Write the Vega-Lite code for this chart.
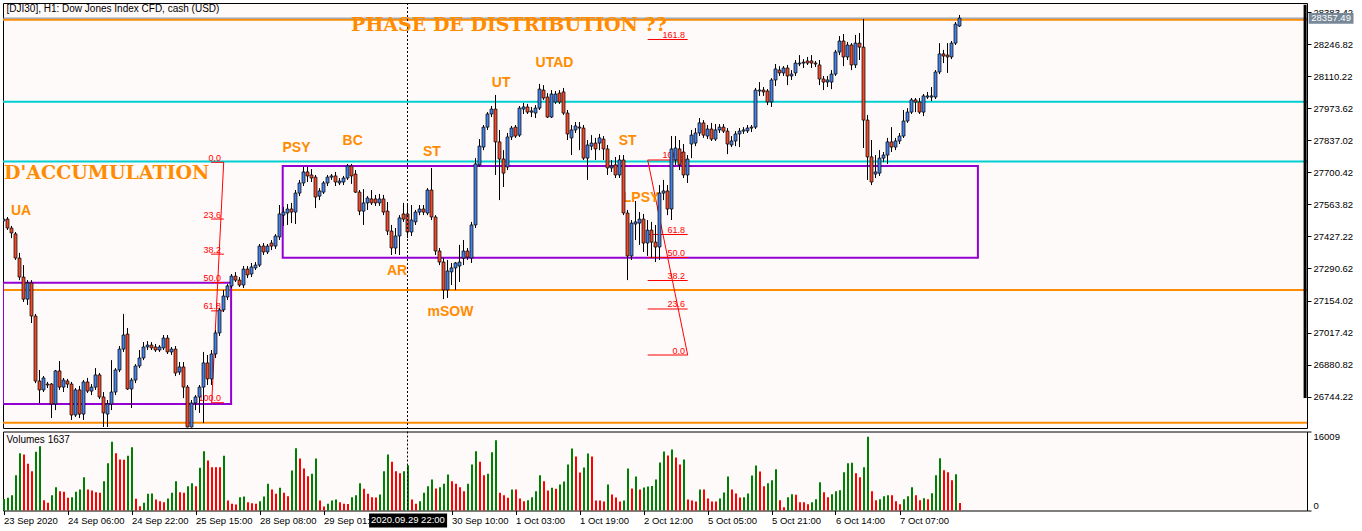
{
"$schema":"https://vega.github.io/schema/vega-lite/v6.json",
"background":"#ffffff",
"padding":{"left":1,"top":2,"right":0,"bottom":0},
"spacing":1.5,
"config":{"view":{"stroke":"#000000","strokeWidth":1,"fill":"#fffafa"},"scale":{"continuousPadding":0},"axis":{"labelFont":"Liberation Sans","labelFontSize":9.5,"labelColor":"#000000","tickColor":"#000000","domain":false,"grid":false}},
"datasets":{
"bars":[
{"i":0,"o":27493,"h":27510,"l":27484,"c":27501,"v":2500},
{"i":1,"o":27501,"h":27510,"l":27455,"c":27463,"v":2750},
{"i":2,"o":27463,"h":27472,"l":27420,"c":27442,"v":3330},
{"i":3,"o":27438,"h":27446,"l":27327,"c":27335,"v":7670},
{"i":4,"o":27335,"h":27357,"l":27241,"c":27254,"v":12450},
{"i":5,"o":27254,"h":27305,"l":27148,"c":27160,"v":12160},
{"i":6,"o":27160,"h":27241,"l":27135,"c":27229,"v":10140},
{"i":7,"o":27229,"h":27241,"l":27058,"c":27088,"v":8540},
{"i":8,"o":27088,"h":27097,"l":26802,"c":26811,"v":12740},
{"i":9,"o":26811,"h":26858,"l":26717,"c":26773,"v":13970},
{"i":10,"o":26773,"h":26832,"l":26764,"c":26824,"v":2240},
{"i":11,"o":26798,"h":26807,"l":26781,"c":26794,"v":1670},
{"i":12,"o":26798,"h":26802,"l":26653,"c":26713,"v":3330},
{"i":13,"o":26713,"h":26858,"l":26687,"c":26854,"v":5070},
{"i":14,"o":26854,"h":26896,"l":26773,"c":26785,"v":4200},
{"i":15,"o":26785,"h":26824,"l":26764,"c":26815,"v":4050},
{"i":16,"o":26811,"h":26820,"l":26781,"c":26798,"v":2750},
{"i":17,"o":26798,"h":26807,"l":26645,"c":26666,"v":2900},
{"i":18,"o":26666,"h":26781,"l":26658,"c":26773,"v":4050},
{"i":19,"o":26773,"h":26790,"l":26653,"c":26670,"v":4560},
{"i":20,"o":26670,"h":26815,"l":26645,"c":26807,"v":7240},
{"i":21,"o":26807,"h":26824,"l":26760,"c":26768,"v":4560},
{"i":22,"o":26768,"h":26798,"l":26751,"c":26785,"v":4340},
{"i":23,"o":26785,"h":26866,"l":26773,"c":26837,"v":3980},
{"i":24,"o":26837,"h":26845,"l":26734,"c":26743,"v":3840},
{"i":25,"o":26743,"h":26764,"l":26615,"c":26675,"v":6370},
{"i":26,"o":26670,"h":26730,"l":26615,"c":26713,"v":10280},
{"i":27,"o":26713,"h":26900,"l":26687,"c":26764,"v":14910},
{"i":28,"o":26764,"h":26866,"l":26751,"c":26858,"v":12450},
{"i":29,"o":26858,"h":26960,"l":26849,"c":26947,"v":11080},
{"i":30,"o":26947,"h":27097,"l":26935,"c":27007,"v":11000},
{"i":31,"o":27011,"h":27037,"l":26773,"c":26777,"v":11870},
{"i":32,"o":26777,"h":26824,"l":26696,"c":26815,"v":13760},
{"i":33,"o":26815,"h":26883,"l":26802,"c":26875,"v":2530},
{"i":34,"o":26875,"h":26943,"l":26866,"c":26909,"v":940},
{"i":35,"o":26909,"h":26977,"l":26900,"c":26956,"v":1670},
{"i":36,"o":26956,"h":26981,"l":26943,"c":26964,"v":3620},
{"i":37,"o":26964,"h":26977,"l":26943,"c":26952,"v":3700},
{"i":38,"o":26956,"h":26969,"l":26935,"c":26943,"v":2390},
{"i":39,"o":26943,"h":26964,"l":26935,"c":26956,"v":2030},
{"i":40,"o":26952,"h":27007,"l":26943,"c":26994,"v":1810},
{"i":41,"o":26994,"h":27007,"l":26926,"c":26935,"v":2610},
{"i":42,"o":26935,"h":26956,"l":26922,"c":26947,"v":3840},
{"i":43,"o":26947,"h":26960,"l":26832,"c":26845,"v":6370},
{"i":44,"o":26849,"h":26892,"l":26837,"c":26871,"v":3980},
{"i":45,"o":26871,"h":26892,"l":26738,"c":26785,"v":3840},
{"i":46,"o":26785,"h":26794,"l":26613,"c":26615,"v":5290},
{"i":47,"o":26615,"h":26730,"l":26613,"c":26717,"v":5940},
{"i":48,"o":26717,"h":26751,"l":26687,"c":26743,"v":5290},
{"i":49,"o":26743,"h":26794,"l":26675,"c":26785,"v":9270},
{"i":50,"o":26785,"h":26935,"l":26632,"c":26888,"v":12890},
{"i":51,"o":26888,"h":26922,"l":26794,"c":26820,"v":10860},
{"i":52,"o":26820,"h":26943,"l":26794,"c":26926,"v":9410},
{"i":53,"o":26926,"h":27028,"l":26909,"c":27016,"v":9410},
{"i":54,"o":27016,"h":27122,"l":27003,"c":27114,"v":9410},
{"i":55,"o":27114,"h":27199,"l":27105,"c":27173,"v":11870},
{"i":56,"o":27169,"h":27224,"l":27156,"c":27216,"v":2170},
{"i":57,"o":27216,"h":27267,"l":27207,"c":27258,"v":1450},
{"i":58,"o":27258,"h":27275,"l":27233,"c":27241,"v":1300},
{"i":59,"o":27241,"h":27254,"l":27212,"c":27220,"v":2900},
{"i":60,"o":27220,"h":27301,"l":27207,"c":27288,"v":3040},
{"i":61,"o":27288,"h":27301,"l":27250,"c":27263,"v":1810},
{"i":62,"o":27267,"h":27314,"l":27254,"c":27297,"v":1590},
{"i":63,"o":27293,"h":27318,"l":27284,"c":27305,"v":1450},
{"i":64,"o":27305,"h":27395,"l":27297,"c":27386,"v":2030},
{"i":65,"o":27386,"h":27399,"l":27348,"c":27361,"v":3040},
{"i":66,"o":27361,"h":27395,"l":27352,"c":27386,"v":5790},
{"i":67,"o":27399,"h":27412,"l":27369,"c":27386,"v":4560},
{"i":68,"o":27386,"h":27437,"l":27374,"c":27429,"v":3620},
{"i":69,"o":27425,"h":27561,"l":27412,"c":27523,"v":4920},
{"i":70,"o":27518,"h":27553,"l":27472,"c":27531,"v":3840},
{"i":71,"o":27527,"h":27565,"l":27476,"c":27544,"v":3110},
{"i":72,"o":27544,"h":27570,"l":27484,"c":27531,"v":8690},
{"i":73,"o":27531,"h":27625,"l":27480,"c":27612,"v":13540},
{"i":74,"o":27612,"h":27668,"l":27599,"c":27655,"v":11290},
{"i":75,"o":27655,"h":27723,"l":27642,"c":27702,"v":9120},
{"i":76,"o":27702,"h":27723,"l":27659,"c":27685,"v":7460},
{"i":77,"o":27689,"h":27714,"l":27659,"c":27676,"v":7960},
{"i":78,"o":27680,"h":27689,"l":27548,"c":27595,"v":11290},
{"i":79,"o":27599,"h":27633,"l":27582,"c":27621,"v":2170},
{"i":80,"o":27616,"h":27663,"l":27608,"c":27655,"v":870},
{"i":81,"o":27655,"h":27689,"l":27642,"c":27680,"v":1450},
{"i":82,"o":27680,"h":27693,"l":27668,"c":27685,"v":2170},
{"i":83,"o":27685,"h":27702,"l":27642,"c":27659,"v":2390},
{"i":84,"o":27655,"h":27676,"l":27646,"c":27663,"v":1810},
{"i":85,"o":27659,"h":27685,"l":27646,"c":27676,"v":1450},
{"i":86,"o":27676,"h":27736,"l":27668,"c":27727,"v":1400},
{"i":87,"o":27727,"h":27736,"l":27651,"c":27685,"v":2900},
{"i":88,"o":27693,"h":27710,"l":27612,"c":27616,"v":3330},
{"i":89,"o":27616,"h":27625,"l":27518,"c":27535,"v":5940},
{"i":90,"o":27535,"h":27629,"l":27476,"c":27570,"v":4700},
{"i":91,"o":27570,"h":27599,"l":27540,"c":27591,"v":3620},
{"i":92,"o":27587,"h":27625,"l":27561,"c":27570,"v":2900},
{"i":93,"o":27587,"h":27604,"l":27557,"c":27570,"v":2800},
{"i":94,"o":27570,"h":27608,"l":27557,"c":27587,"v":3480},
{"i":95,"o":27587,"h":27604,"l":27518,"c":27531,"v":8540},
{"i":96,"o":27535,"h":27574,"l":27433,"c":27450,"v":12160},
{"i":97,"o":27450,"h":27476,"l":27348,"c":27378,"v":10570},
{"i":98,"o":27378,"h":27463,"l":27352,"c":27429,"v":8540},
{"i":99,"o":27429,"h":27518,"l":27348,"c":27506,"v":8110},
{"i":100,"o":27523,"h":27570,"l":27489,"c":27501,"v":8540},
{"i":101,"o":27523,"h":27561,"l":27420,"c":27446,"v":9850},
{"i":102,"o":27446,"h":27561,"l":27429,"c":27497,"v":2390},
{"i":103,"o":27489,"h":27540,"l":27476,"c":27531,"v":1450},
{"i":104,"o":27531,"h":27561,"l":27518,"c":27544,"v":2030},
{"i":105,"o":27544,"h":27561,"l":27518,"c":27531,"v":3840},
{"i":106,"o":27527,"h":27633,"l":27518,"c":27625,"v":5290},
{"i":107,"o":27625,"h":27719,"l":27497,"c":27510,"v":6730},
{"i":108,"o":27510,"h":27518,"l":27348,"c":27365,"v":4800},
{"i":109,"o":27365,"h":27378,"l":27305,"c":27318,"v":5070},
{"i":110,"o":27318,"h":27335,"l":27160,"c":27199,"v":5790},
{"i":111,"o":27199,"h":27327,"l":27165,"c":27280,"v":7820},
{"i":112,"o":27276,"h":27314,"l":27220,"c":27293,"v":6370},
{"i":113,"o":27293,"h":27318,"l":27199,"c":27314,"v":5790},
{"i":114,"o":27301,"h":27391,"l":27233,"c":27318,"v":5070},
{"i":115,"o":27335,"h":27412,"l":27305,"c":27365,"v":4200},
{"i":116,"o":27365,"h":27378,"l":27327,"c":27339,"v":5790},
{"i":117,"o":27335,"h":27489,"l":27314,"c":27476,"v":9990},
{"i":118,"o":27476,"h":27761,"l":27463,"c":27736,"v":12890},
{"i":119,"o":27732,"h":27842,"l":27723,"c":27812,"v":10570},
{"i":120,"o":27808,"h":27902,"l":27795,"c":27893,"v":7670},
{"i":121,"o":27893,"h":27957,"l":27881,"c":27949,"v":7960},
{"i":122,"o":27949,"h":27983,"l":27936,"c":27970,"v":12670},
{"i":123,"o":27970,"h":28030,"l":27689,"c":27830,"v":15280},
{"i":124,"o":27830,"h":27881,"l":27582,"c":27757,"v":3840},
{"i":125,"o":27757,"h":27795,"l":27638,"c":27697,"v":3330},
{"i":126,"o":27723,"h":27868,"l":27710,"c":27851,"v":2750},
{"i":127,"o":27851,"h":27898,"l":27838,"c":27889,"v":4560},
{"i":128,"o":27893,"h":27902,"l":27847,"c":27855,"v":4560},
{"i":129,"o":27859,"h":27983,"l":27851,"c":27974,"v":2610},
{"i":130,"o":27970,"h":27996,"l":27949,"c":27979,"v":2030},
{"i":131,"o":27979,"h":27992,"l":27949,"c":27957,"v":2200},
{"i":132,"o":27957,"h":27979,"l":27936,"c":27962,"v":2900},
{"i":133,"o":27953,"h":27987,"l":27932,"c":27974,"v":4200},
{"i":134,"o":27974,"h":28077,"l":27966,"c":28055,"v":7670},
{"i":135,"o":28051,"h":28072,"l":28009,"c":28017,"v":6370},
{"i":136,"o":28021,"h":28038,"l":27932,"c":27936,"v":4340},
{"i":137,"o":27936,"h":28051,"l":27932,"c":28034,"v":4920},
{"i":138,"o":28000,"h":28047,"l":27992,"c":28034,"v":4700},
{"i":139,"o":28038,"h":28051,"l":27992,"c":28000,"v":5650},
{"i":140,"o":28043,"h":28060,"l":27945,"c":27953,"v":6300},
{"i":141,"o":27953,"h":27966,"l":27838,"c":27864,"v":9990},
{"i":142,"o":27847,"h":27902,"l":27774,"c":27881,"v":13470},
{"i":143,"o":27881,"h":27915,"l":27868,"c":27898,"v":11730},
{"i":144,"o":27893,"h":27915,"l":27795,"c":27889,"v":8250},
{"i":145,"o":27889,"h":27902,"l":27753,"c":27761,"v":9340},
{"i":146,"o":27761,"h":27838,"l":27668,"c":27817,"v":12380},
{"i":147,"o":27812,"h":27859,"l":27795,"c":27825,"v":11730},
{"i":148,"o":27825,"h":27847,"l":27753,"c":27800,"v":2170},
{"i":149,"o":27825,"h":27864,"l":27795,"c":27847,"v":2170},
{"i":150,"o":27842,"h":27855,"l":27753,"c":27800,"v":1950},
{"i":151,"o":27800,"h":27817,"l":27689,"c":27719,"v":5650},
{"i":152,"o":27719,"h":27753,"l":27702,"c":27727,"v":3480},
{"i":153,"o":27732,"h":27766,"l":27676,"c":27689,"v":2820},
{"i":154,"o":27689,"h":27774,"l":27676,"c":27753,"v":1950},
{"i":155,"o":27753,"h":27774,"l":27518,"c":27527,"v":2170},
{"i":156,"o":27527,"h":27540,"l":27241,"c":27344,"v":9120},
{"i":157,"o":27344,"h":27497,"l":27327,"c":27484,"v":4780},
{"i":158,"o":27480,"h":27578,"l":27412,"c":27489,"v":7380},
{"i":159,"o":27484,"h":27531,"l":27391,"c":27501,"v":4560},
{"i":160,"o":27501,"h":27523,"l":27361,"c":27399,"v":5000},
{"i":161,"o":27399,"h":27497,"l":27344,"c":27454,"v":5210},
{"i":162,"o":27454,"h":27489,"l":27335,"c":27403,"v":5300},
{"i":163,"o":27403,"h":27476,"l":27318,"c":27382,"v":6730},
{"i":164,"o":27382,"h":27646,"l":27327,"c":27612,"v":10430},
{"i":165,"o":27612,"h":27668,"l":27582,"c":27621,"v":12810},
{"i":166,"o":27621,"h":27646,"l":27518,"c":27544,"v":11950},
{"i":167,"o":27544,"h":27855,"l":27497,"c":27800,"v":13250},
{"i":168,"o":27753,"h":27855,"l":27732,"c":27804,"v":11510},
{"i":169,"o":27800,"h":27838,"l":27710,"c":27732,"v":9990},
{"i":170,"o":27787,"h":27821,"l":27676,"c":27689,"v":11080},
{"i":171,"o":27689,"h":27774,"l":27655,"c":27757,"v":2390},
{"i":172,"o":27821,"h":27881,"l":27761,"c":27859,"v":2170},
{"i":173,"o":27825,"h":27889,"l":27812,"c":27868,"v":1950},
{"i":174,"o":27868,"h":27932,"l":27855,"c":27911,"v":4560},
{"i":175,"o":27911,"h":27923,"l":27847,"c":27859,"v":4560},
{"i":176,"o":27855,"h":27902,"l":27842,"c":27885,"v":2610},
{"i":177,"o":27885,"h":27911,"l":27834,"c":27842,"v":1950},
{"i":178,"o":27842,"h":27906,"l":27834,"c":27881,"v":1950},
{"i":179,"o":27881,"h":27906,"l":27868,"c":27893,"v":2610},
{"i":180,"o":27893,"h":27906,"l":27868,"c":27876,"v":3910},
{"i":181,"o":27876,"h":27889,"l":27778,"c":27821,"v":7380},
{"i":182,"o":27817,"h":27855,"l":27808,"c":27834,"v":4560},
{"i":183,"o":27834,"h":27876,"l":27812,"c":27864,"v":3690},
{"i":184,"o":27864,"h":27889,"l":27808,"c":27876,"v":2820},
{"i":185,"o":27876,"h":27893,"l":27864,"c":27881,"v":2900},
{"i":186,"o":27877,"h":27902,"l":27868,"c":27889,"v":3690},
{"i":187,"o":27889,"h":27902,"l":27872,"c":27893,"v":7600},
{"i":188,"o":27893,"h":28060,"l":27885,"c":28051,"v":9770},
{"i":189,"o":28047,"h":28085,"l":28026,"c":28051,"v":8470},
{"i":190,"o":28051,"h":28064,"l":28026,"c":28043,"v":5290},
{"i":191,"o":28047,"h":28055,"l":27987,"c":28000,"v":5940},
{"i":192,"o":28000,"h":28102,"l":27979,"c":28094,"v":6590},
{"i":193,"o":28094,"h":28162,"l":28068,"c":28141,"v":8980},
{"i":194,"o":28136,"h":28153,"l":28111,"c":28124,"v":2240},
{"i":195,"o":28124,"h":28153,"l":28111,"c":28145,"v":720},
{"i":196,"o":28145,"h":28158,"l":28072,"c":28111,"v":2900},
{"i":197,"o":28111,"h":28136,"l":28094,"c":28119,"v":3550},
{"i":198,"o":28124,"h":28179,"l":28111,"c":28166,"v":3400},
{"i":199,"o":28162,"h":28200,"l":28153,"c":28166,"v":1810},
{"i":200,"o":28166,"h":28183,"l":28145,"c":28170,"v":1810},
{"i":201,"o":28175,"h":28192,"l":28158,"c":28166,"v":1380},
{"i":202,"o":28175,"h":28200,"l":28145,"c":28166,"v":1810},
{"i":203,"o":28166,"h":28175,"l":28149,"c":28162,"v":2460},
{"i":204,"o":28158,"h":28179,"l":28072,"c":28098,"v":6150},
{"i":205,"o":28098,"h":28111,"l":28051,"c":28085,"v":3980},
{"i":206,"o":28085,"h":28111,"l":28064,"c":28094,"v":2900},
{"i":207,"o":28085,"h":28136,"l":28055,"c":28119,"v":3550},
{"i":208,"o":28119,"h":28222,"l":28111,"c":28213,"v":4200},
{"i":209,"o":28213,"h":28281,"l":28200,"c":28260,"v":4420},
{"i":210,"o":28260,"h":28290,"l":28153,"c":28192,"v":8330},
{"i":211,"o":28192,"h":28256,"l":28179,"c":28243,"v":10280},
{"i":212,"o":28243,"h":28251,"l":28136,"c":28158,"v":10350},
{"i":213,"o":28158,"h":28286,"l":28145,"c":28251,"v":8110},
{"i":214,"o":28251,"h":28294,"l":28179,"c":28234,"v":7240},
{"i":215,"o":28234,"h":28354,"l":27804,"c":27923,"v":9410},
{"i":216,"o":27923,"h":27945,"l":27668,"c":27766,"v":16009},
{"i":217,"o":27766,"h":27838,"l":27646,"c":27659,"v":4200},
{"i":218,"o":27693,"h":27774,"l":27676,"c":27702,"v":2240},
{"i":219,"o":27697,"h":27795,"l":27685,"c":27761,"v":2460},
{"i":220,"o":27761,"h":27787,"l":27744,"c":27774,"v":3110},
{"i":221,"o":27774,"h":27847,"l":27736,"c":27830,"v":3330},
{"i":222,"o":27830,"h":27893,"l":27787,"c":27808,"v":3330},
{"i":223,"o":27808,"h":27847,"l":27795,"c":27834,"v":2030},
{"i":224,"o":27834,"h":27868,"l":27821,"c":27855,"v":1380},
{"i":225,"o":27855,"h":27966,"l":27847,"c":27919,"v":2460},
{"i":226,"o":27919,"h":27974,"l":27911,"c":27957,"v":3110},
{"i":227,"o":27957,"h":28017,"l":27949,"c":28009,"v":5070},
{"i":228,"o":28009,"h":28017,"l":27957,"c":28000,"v":3330},
{"i":229,"o":28000,"h":28017,"l":27949,"c":27957,"v":2240},
{"i":230,"o":27957,"h":28034,"l":27940,"c":28026,"v":2680},
{"i":231,"o":28021,"h":28043,"l":28013,"c":28026,"v":2460},
{"i":232,"o":28021,"h":28064,"l":28004,"c":28026,"v":3760},
{"i":233,"o":28021,"h":28136,"l":28013,"c":28128,"v":7670},
{"i":234,"o":28128,"h":28251,"l":28119,"c":28205,"v":11370},
{"i":235,"o":28205,"h":28222,"l":28166,"c":28196,"v":8760},
{"i":236,"o":28200,"h":28251,"l":28124,"c":28192,"v":8330},
{"i":237,"o":28192,"h":28260,"l":28183,"c":28251,"v":6590},
{"i":238,"o":28251,"h":28341,"l":28243,"c":28332,"v":7890},
{"i":239,"o":28324,"h":28371,"l":28320,"c":28357.49,"v":1637}
],
"hl":[{"p":28351,"k":"orange"},{"p":28001,"k":"cyan"},{"p":27746,"k":"cyan"},{"p":27199,"k":"orange"},{"p":26633,"k":"orange"}],
"boxes":[{"x1":-0.125,"x2":56.9,"p1":27230,"p2":26713},{"x1":69.8,"x2":243.6,"p1":27727.3,"p2":27336.5}],
"fib":[
{"x1":51.9,"x2":55.1,"lx":54.4,"p":27743.1,"t":"0.0"},
{"x1":51.9,"x2":55.1,"lx":54.4,"p":27501.3,"t":"23.6"},
{"x1":51.9,"x2":55.1,"lx":54.4,"p":27351.7,"t":"38.2"},
{"x1":51.9,"x2":55.1,"lx":54.4,"p":27230.8,"t":"50.0"},
{"x1":51.9,"x2":55.1,"lx":54.4,"p":27109.9,"t":"61.8"},
{"x1":51.9,"x2":55.1,"lx":54.4,"p":26718.5,"t":"100.0"},
{"x1":161.05,"x2":171.05,"lx":170.4,"p":26921.8,"t":"0.0"},
{"x1":161.05,"x2":171.05,"lx":170.4,"p":27117.9,"t":"23.6"},
{"x1":161.05,"x2":171.05,"lx":170.4,"p":27239.3,"t":"38.2"},
{"x1":161.05,"x2":171.05,"lx":170.4,"p":27337.4,"t":"50.0"},
{"x1":161.05,"x2":171.05,"lx":170.4,"p":27435.4,"t":"61.8"},
{"x1":161.05,"x2":171.05,"lx":170.4,"p":27752.9,"t":"100.0"},
{"x1":161.05,"x2":171.05,"lx":170.4,"p":28266.5,"t":"161.8"}
],
"fibdiag":[{"x1":55.05,"p1":27743.1,"x2":52.05,"p2":26718.5},{"x1":161.05,"p1":27752.9,"x2":171.05,"p2":26921.8}],
"wyckoff":[{"t":"UA","i":4.4,"p":27535},{"t":"PSY","i":73.25,"p":27805},{"t":"BC","i":87.3,"p":27835},{"t":"ST","i":107.1,"p":27786},{"t":"AR","i":98.4,"p":27281},{"t":"mSOW","i":111.75,"p":27105},{"t":"UT","i":124.4,"p":28082},{"t":"UTAD","i":137.75,"p":28165},{"t":"ST","i":156.05,"p":27834},{"t":"LPSY","i":159.4,"p":27592}],
"phases":[{"t":"PHASE DE DISTRIBUTION ??","i":86.9,"p":28304},{"t":"D'ACCUMULATION","i":0.125,"p":27670.6}]
},
"vconcat":[
{"width":1304,"height":425,
"resolve":{"axis":{"x":"independent","y":"independent"}},
"layer":[
{"data":{"name":"hl"},"mark":{"type":"rule","strokeWidth":2},
 "encoding":{"y":{"field":"p","type":"quantitative","scale":{"domain":[26610.7,28422],"nice":false,"zero":false,"padding":0},
   "axis":{"orient":"right","values":[28383.42,28246.82,28110.22,27973.62,27837.02,27700.42,27563.82,27427.22,27290.62,27154.02,27017.42,26880.82,26744.22],"format":".2f","tickSize":4,"labelPadding":2,"title":null,"labelOverlap":false,"labelFlush":false}},
  "color":{"field":"k","type":"nominal","scale":{"domain":["orange","cyan"],"range":["#ff8c00","#00ced1"]},"legend":null}}},
{"data":{"values":[{"p":28357.49}]},"mark":{"type":"rule","strokeWidth":1,"color":"#778899"},
 "encoding":{"y":{"field":"p","type":"quantitative","scale":{"domain":[26610.7,28422],"nice":false,"zero":false,"padding":0},"axis":null}}},
{"data":{"name":"boxes"},"mark":{"type":"rect","filled":false,"stroke":"#9400d3","strokeWidth":2,"clip":true},
 "encoding":{"x":{"field":"x1","type":"quantitative","scale":{"domain":[-0.125,325.875],"nice":false,"zero":false,"padding":0},"axis":null},"x2":{"field":"x2"},
  "y":{"field":"p1","type":"quantitative","scale":{"domain":[26610.7,28422],"nice":false,"zero":false,"padding":0},"axis":null},"y2":{"field":"p2"}}},
{"data":{"name":"fib"},"mark":{"type":"rule","strokeWidth":1,"color":"#ff0000"},
 "encoding":{"x":{"field":"x1","type":"quantitative","scale":{"domain":[-0.125,325.875],"nice":false,"zero":false,"padding":0},"axis":null},"x2":{"field":"x2"},
  "y":{"field":"p","type":"quantitative","scale":{"domain":[26610.7,28422],"nice":false,"zero":false,"padding":0},"axis":null}}},
{"data":{"name":"fibdiag"},"mark":{"type":"rule","strokeWidth":1,"color":"#ff0000"},
 "encoding":{"x":{"field":"x1","type":"quantitative","scale":{"domain":[-0.125,325.875],"nice":false,"zero":false,"padding":0},"axis":null},"x2":{"field":"x2"},
  "y":{"field":"p1","type":"quantitative","scale":{"domain":[26610.7,28422],"nice":false,"zero":false,"padding":0},"axis":null},"y2":{"field":"p2"}}},
{"data":{"name":"fib"},"mark":{"type":"text","font":"Liberation Sans","fontSize":9,"color":"#ff0000","align":"right","baseline":"alphabetic","dy":-1.5},
 "encoding":{"x":{"field":"lx","type":"quantitative","scale":{"domain":[-0.125,325.875],"nice":false,"zero":false,"padding":0},"axis":null},
  "y":{"field":"p","type":"quantitative","scale":{"domain":[26610.7,28422],"nice":false,"zero":false,"padding":0},"axis":null},"text":{"field":"t"}}},
{"data":{"name":"wyckoff"},"mark":{"type":"text","font":"Liberation Sans","fontWeight":"bold","fontSize":14,"color":"#ff8c00","align":"center","baseline":"middle"},
 "encoding":{"x":{"field":"i","type":"quantitative","scale":{"domain":[-0.125,325.875],"nice":false,"zero":false,"padding":0},"axis":null},
  "y":{"field":"p","type":"quantitative","scale":{"domain":[26610.7,28422],"nice":false,"zero":false,"padding":0},"axis":null},"text":{"field":"t"}}},
{"data":{"name":"bars"},"mark":{"type":"rule","strokeWidth":1,"color":"#000000","clip":true},
 "encoding":{"x":{"field":"i","type":"quantitative","scale":{"domain":[-0.125,325.875],"nice":false,"zero":false,"padding":0},"axis":null},
  "y":{"field":"l","type":"quantitative","scale":{"domain":[26610.7,28422],"nice":false,"zero":false,"padding":0},"axis":null},"y2":{"field":"h"}}},
{"data":{"name":"bars"},"mark":{"type":"bar","orient":"vertical","size":3,"stroke":"#000000","strokeWidth":0.7,"clip":true},
 "encoding":{"x":{"field":"i","type":"quantitative","scale":{"domain":[-0.125,325.875],"nice":false,"zero":false,"padding":0},"axis":null},
  "y":{"field":"o","type":"quantitative","scale":{"domain":[26610.7,28422],"nice":false,"zero":false,"padding":0},"axis":null},"y2":{"field":"c"},
  "color":{"condition":{"test":"datum.c > datum.o","value":"#4682e6"},"value":"#f04a2c"}}},
{"data":{"values":[{"i":101}]},"mark":{"type":"rule","strokeWidth":1,"color":"#000000","strokeDash":[2,2]},
 "encoding":{"x":{"field":"i","type":"quantitative","scale":{"domain":[-0.125,325.875],"nice":false,"zero":false,"padding":0},"axis":null}}},
{"data":{"name":"phases"},"mark":{"type":"text","font":"DejaVu Serif","fontWeight":"bold","fontSize":19,"color":"#ff8c00","align":"left","baseline":"alphabetic"},
 "encoding":{"x":{"field":"i","type":"quantitative","scale":{"domain":[-0.125,325.875],"nice":false,"zero":false,"padding":0},"axis":null},
  "y":{"field":"p","type":"quantitative","scale":{"domain":[26610.7,28422],"nice":false,"zero":false,"padding":0},"axis":null},"text":{"field":"t"}}},
{"data":{"values":[{"t":"[DJI30], H1:  Dow Jones Index CFD, cash (USD)","i":0.75,"p":28397}]},"mark":{"type":"text","font":"Liberation Sans","fontSize":10,"color":"#000000","align":"left","baseline":"middle"},
 "encoding":{"x":{"field":"i","type":"quantitative","scale":{"domain":[-0.125,325.875],"nice":false,"zero":false,"padding":0},"axis":null},
  "y":{"field":"p","type":"quantitative","scale":{"domain":[26610.7,28422],"nice":false,"zero":false,"padding":0},"axis":null},"text":{"field":"t"}}},
{"data":{"values":[{"i":325.4,"p1":28415,"p2":26738.5}]},"mark":{"type":"rule","strokeWidth":3,"color":"#000000"},
 "encoding":{"x":{"field":"i","type":"quantitative","scale":{"domain":[-0.125,325.875],"nice":false,"zero":false,"padding":0},"axis":null},
  "y":{"field":"p1","type":"quantitative","scale":{"domain":[26610.7,28422],"nice":false,"zero":false,"padding":0},"axis":null},"y2":{"field":"p2"}}},
{"data":{"values":[{"x1":326.3,"x2":337.5,"p1":28379.8,"p2":28333.8}]},"mark":{"type":"rect","color":"#778899"},
 "encoding":{"x":{"field":"x1","type":"quantitative","scale":{"domain":[-0.125,325.875],"nice":false,"zero":false,"padding":0},"axis":null},"x2":{"field":"x2"},
  "y":{"field":"p1","type":"quantitative","scale":{"domain":[26610.7,28422],"nice":false,"zero":false,"padding":0},"axis":null},"y2":{"field":"p2"}}},
{"data":{"values":[{"t":"28357.49","i":331.9,"p":28357}]},"mark":{"type":"text","font":"Liberation Sans","fontSize":9.5,"color":"#ffffff","align":"center","baseline":"middle"},
 "encoding":{"x":{"field":"i","type":"quantitative","scale":{"domain":[-0.125,325.875],"nice":false,"zero":false,"padding":0},"axis":null},
  "y":{"field":"p","type":"quantitative","scale":{"domain":[26610.7,28422],"nice":false,"zero":false,"padding":0},"axis":null},"text":{"field":"t"}}}
]},
{"width":1304,"height":79,
"resolve":{"axis":{"x":"independent","y":"independent"}},
"layer":[
{"data":{"name":"bars"},
 "transform":[{"window":[{"op":"lag","field":"v","as":"pv"}],"sort":[{"field":"i"}]}],
 "mark":{"type":"bar","orient":"vertical","size":2,"xOffset":0.5},
 "encoding":{"x":{"field":"i","type":"quantitative","scale":{"domain":[-0.125,325.875],"nice":false,"zero":false,"padding":0},
   "axis":{"orient":"bottom","values":[0,16,32,48,64,80,112,128,144,160,176,192,208,224],
    "labelExpr":"['23 Sep 2020','24 Sep 06:00','24 Sep 22:00','25 Sep 15:00','28 Sep 08:00','29 Sep 01:00','29 Sep 17:00','30 Sep 10:00','1 Oct 03:00','1 Oct 19:00','2 Oct 12:00','5 Oct 05:00','5 Oct 21:00','6 Oct 14:00','7 Oct 07:00'][round(datum.value/16)]",
    "labelAlign":"left","labelPadding":1,"tickSize":4,"title":null,"labelOverlap":false,"labelFlush":false,"labelBound":false}},
  "y":{"field":"v","type":"quantitative","scale":{"domain":[0,17159],"nice":false,"zero":false,"padding":0},
   "axis":{"orient":"right","values":[0,17159],"labelExpr":"datum.value > 100 ? '16009' : '0'","labelFlush":true,"tickSize":4,"labelPadding":2,"title":null,"labelOverlap":false}},
  "color":{"condition":{"test":"datum.v > datum.pv","value":"#008000"},"value":"#ff0000"}}},
{"data":{"values":[{"i":101}]},"mark":{"type":"rule","strokeWidth":1,"color":"#000000","strokeDash":[2,2]},
 "encoding":{"x":{"field":"i","type":"quantitative","scale":{"domain":[-0.125,325.875],"nice":false,"zero":false,"padding":0},"axis":null}}},
{"data":{"values":[{"t":"Volumes 1637","i":0.75,"v":15270}]},"mark":{"type":"text","font":"Liberation Sans","fontSize":10,"color":"#000000","align":"left","baseline":"middle"},
 "encoding":{"x":{"field":"i","type":"quantitative","scale":{"domain":[-0.125,325.875],"nice":false,"zero":false,"padding":0},"axis":null},
  "y":{"field":"v","type":"quantitative","scale":{"domain":[0,17159],"nice":false,"zero":false,"padding":0},"axis":null},"text":{"field":"t"}}},
{"data":{"values":[{"x1":91.4,"x2":110.9,"v1":-652,"v2":-3692}]},"mark":{"type":"rect","color":"#000000"},
 "encoding":{"x":{"field":"x1","type":"quantitative","scale":{"domain":[-0.125,325.875],"nice":false,"zero":false,"padding":0},"axis":null},"x2":{"field":"x2"},
  "y":{"field":"v1","type":"quantitative","scale":{"domain":[0,17159],"nice":false,"zero":false,"padding":0},"axis":null},"y2":{"field":"v2"}}},
{"data":{"values":[{"t":"2020.09.29 22:00","i":101.1,"v":-2172}]},"mark":{"type":"text","font":"Liberation Sans","fontSize":9.5,"color":"#ffffff","align":"center","baseline":"middle"},
 "encoding":{"x":{"field":"i","type":"quantitative","scale":{"domain":[-0.125,325.875],"nice":false,"zero":false,"padding":0},"axis":null},
  "y":{"field":"v","type":"quantitative","scale":{"domain":[0,17159],"nice":false,"zero":false,"padding":0},"axis":null},"text":{"field":"t"}}}
]}
]
}
